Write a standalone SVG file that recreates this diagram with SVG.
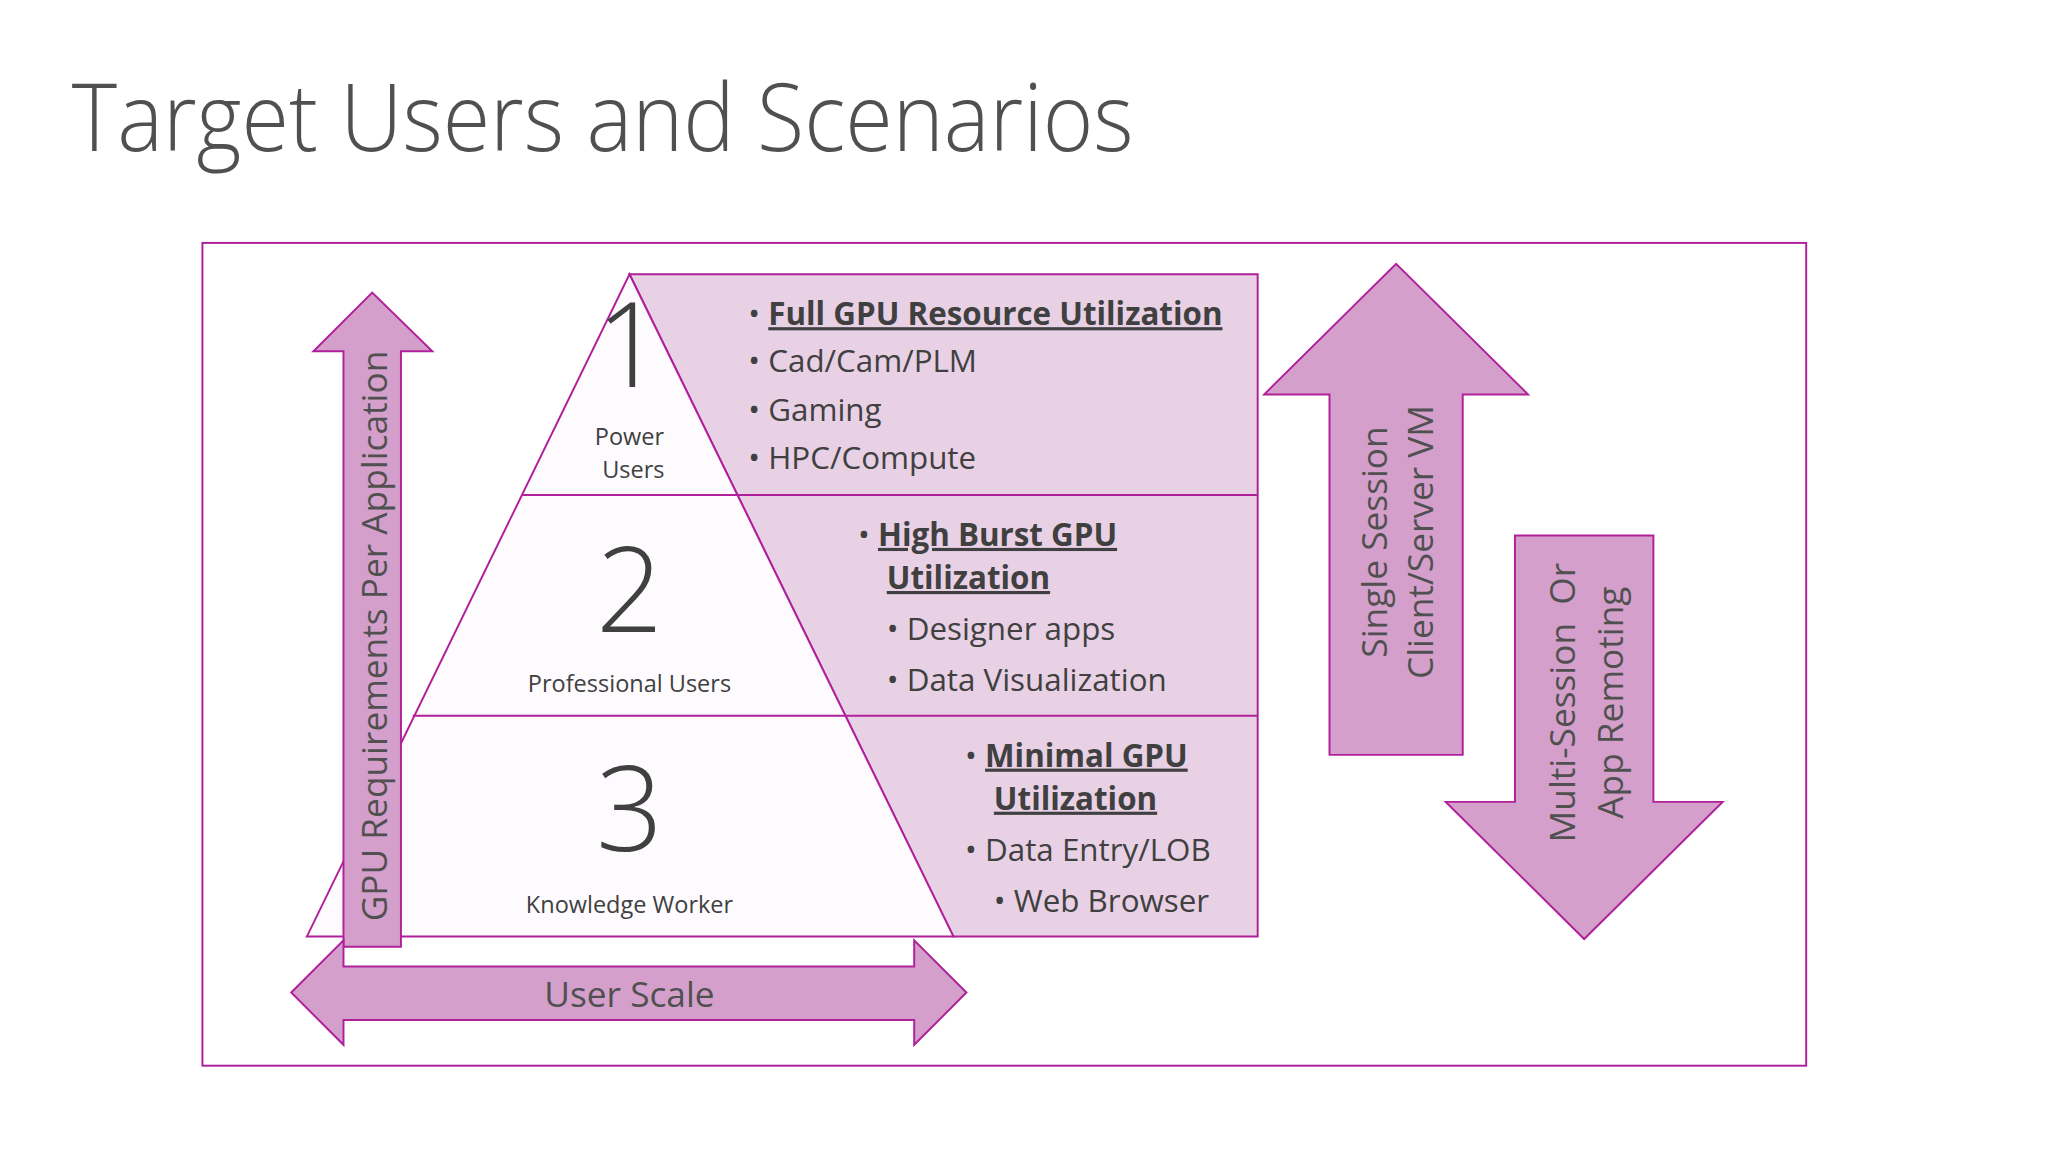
<svg xmlns="http://www.w3.org/2000/svg" width="2048" height="1152" viewBox="0 0 2048 1152">
<style>
text{font-family:"Open Sans","Noto Sans",sans-serif;fill:#404040}
.arr{fill:#d4a0cb;stroke:#b0209a;stroke-width:1.5}
.ln{stroke:#b0209a;stroke-width:1.5;fill:none}
.b{font-size:24px}
.h{font-weight:bold;text-decoration:underline}
.n{font-size:90px;text-anchor:middle;font-weight:300}
.s{font-size:18px;text-anchor:middle}
.v{font-size:27px;fill:#505050}
</style>
<rect width="2048" height="1152" fill="#fff"/>
<g transform="scale(1.306)">
<text x="55" y="116" textLength="813" lengthAdjust="spacingAndGlyphs" style="font-size:72px;font-weight:300;fill:#505050">Target Users and Scenarios</text>
<rect id="frame" x="155" y="186" width="1228" height="630" class="ln" fill="none"/>
<g id="pyramid">
<polygon points="482,210 963,210 963,717 730,717" fill="#e8d0e5" stroke="#b0209a" stroke-width="1.5"/>
<polygon points="482,210 730,717 235,717" fill="#fdfbfd" stroke="#b0209a" stroke-width="1.5"/>
<line x1="400" y1="379" x2="963" y2="379" class="ln"/>
<line x1="316" y1="548" x2="963" y2="548" class="ln"/>
</g>
<g id="tier1">
<text x="482" y="296" class="n">1</text>
<text x="482" y="341" class="s">Power</text><text x="485" y="366" class="s">Users</text>
<text class="b" x="573" y="249">•  <tspan class="h">Full GPU Resource Utilization</tspan></text>
<text class="b" x="573" y="285">•  Cad/Cam/PLM</text>
<text class="b" x="573" y="322">•  Gaming</text>
<text class="b" x="573" y="359">•  HPC/Compute</text>
</g>
<g id="tier2">
<text x="482" y="484" class="n">2</text>
<text x="482" y="530" class="s">Professional Users</text>
<text class="b" x="657" y="418">•  <tspan class="h">High Burst GPU</tspan></text>
<text class="b h" x="679" y="451">Utilization</text>
<text class="b" x="679" y="490">•  Designer apps</text>
<text class="b" x="679" y="529">•  Data Visualization</text>
</g>
<g id="tier3">
<text x="482" y="652" class="n">3</text>
<text x="482" y="699" class="s">Knowledge Worker</text>
<text class="b" x="739" y="587">•  <tspan class="h">Minimal GPU</tspan></text>
<text class="b h" x="761" y="620">Utilization</text>
<text class="b" x="739" y="659">•  Data Entry/LOB</text>
<text class="b" x="761" y="698">•  Web Browser</text>
</g>
<g id="connectors">
<g id="gpu-arrow">
<polygon class="arr" points="263,725 307,725 307,269 331,269 285,224 240,269 263,269"/>
<text class="v" transform="translate(296,487) rotate(-90)" text-anchor="middle">GPU Requirements Per Application</text>
</g>
<g id="scale-arrow">
<polygon class="arr" points="223,760 263,720 263,740 700,740 700,720 740,760 700,800 700,781 263,781 263,800"/>
<text class="v" x="482" y="771" text-anchor="middle">User Scale</text>
</g>
<g id="single-arrow">
<polygon class="arr" points="1018,578 1120,578 1120,302 1170,302 1069,202 968,302 1018,302"/>
<text class="v" transform="translate(1062,415) rotate(-90)" text-anchor="middle">Single Session</text>
<text class="v" transform="translate(1097,415) rotate(-90)" text-anchor="middle">Client/Server VM</text>
</g>
<g id="multi-arrow">
<polygon class="arr" points="1160,410 1266,410 1266,614 1319,614 1213,719 1107,614 1160,614"/>
<text class="v" transform="translate(1206,538) rotate(-90)" text-anchor="middle" xml:space="preserve">Multi-Session  Or</text>
<text class="v" transform="translate(1243,538) rotate(-90)" text-anchor="middle">App Remoting</text>
</g>
</g>
</g>
</svg>
